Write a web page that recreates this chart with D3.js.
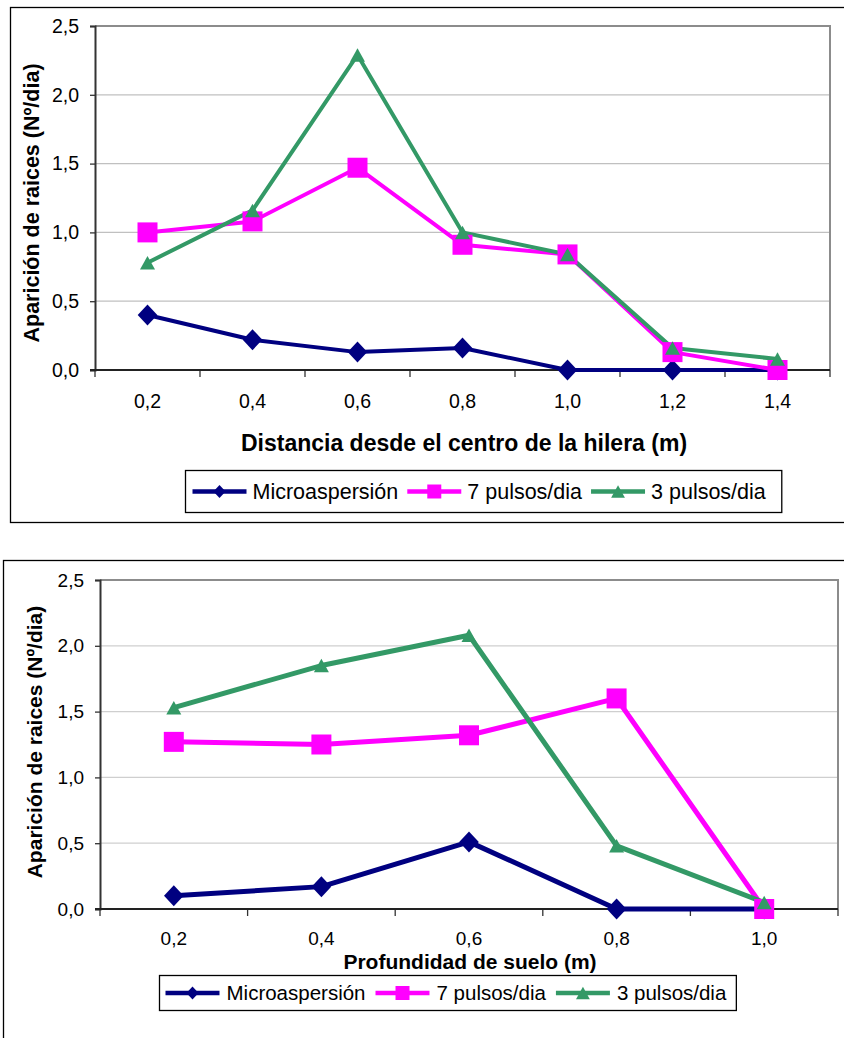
<!DOCTYPE html>
<html>
<head>
<meta charset="utf-8">
<script src="https://cdn.jsdelivr.net/npm/d3@7"></script>
<style>
  body { margin: 0; background: #fff; }
  svg { display: block; font-family: "Liberation Sans", Arial, sans-serif; }
</style>
</head>
<body>
<svg id="chart" width="844" height="1038"></svg>
<script>
// ---- data ----
const seriesNames = ["Microaspersión", "7 pulsos/dia", "3 pulsos/dia"];

// distance from the row centre (m)
const distancias = ["0,2", "0,4", "0,6", "0,8", "1,0", "1,2", "1,4"];
const microDistancia = [0.40, 0.22, 0.13, 0.16, 0.00, 0.00, 0.00];
const pulsos7Distancia = [1.00, 1.08, 1.47, 0.91, 0.84, 0.13, 0.00];
const pulsos3Distancia = [0.78, 1.16, 2.29, 1.00, 0.84, 0.16, 0.08];

// soil depth (m)
const profundidades = ["0,2", "0,4", "0,6", "0,8", "1,0"];
const microProfundidad = [0.10, 0.17, 0.51, 0.00, 0.00];
const pulsos7Profundidad = [1.27, 1.25, 1.32, 1.60, 0.00];
const pulsos3Profundidad = [1.53, 1.85, 2.08, 0.48, 0.05];

const yTicks = [0, 0.5, 1.0, 1.5, 2.0, 2.5];
const yTitle = "Aparición de raices (Nº/dia)";

// ---- styling ----
const seriesStyle = [
  { color: "#000080", marker: "diamond", legendScale: 0.62 },
  { color: "#FF00FF", marker: "square", legendScale: 0.7 },
  { color: "#339966", marker: "triangle", legendScale: 0.92 }
];

const esLocale = d3.formatLocale({ decimal: ",", thousands: ".", grouping: [3], currency: ["", " €"] });
const fmt = esLocale.format(".1f");

function markerPath(type, k) {
  if (type === "diamond") {
    const w = 9.8 * k, h = 10.5 * k;
    return `M0,${-h}L${w},0L0,${h}L${-w},0Z`;
  }
  if (type === "square") {
    const a = 10 * k;
    return `M${-a},${-a}H${a}V${a}H${-a}Z`;
  }
  const w = 15 * k, h = 13.5 * k;
  return `M0,${-h / 2}L${w / 2},${h / 2}L${-w / 2},${h / 2}Z`;
}

const svg = d3.select("#chart");

function drawChart(cfg) {
  const g = svg.append("g");

  // outer chart frame
  g.append("rect")
    .attr("x", cfg.frame.x).attr("y", cfg.frame.y)
    .attr("width", cfg.frame.w).attr("height", cfg.frame.h)
    .attr("fill", "none").attr("stroke", "#000").attr("stroke-width", 1.3);

  const x = d3.scaleBand().domain(cfg.categories).range([cfg.plot.l, cfg.plot.r]).padding(0);
  const y = d3.scaleLinear().domain([0, 2.5]).range([cfg.plot.b, cfg.plot.t]);
  const cx = d => x(d) + x.bandwidth() / 2;

  // horizontal gridlines
  g.append("g").selectAll("line").data(yTicks.filter(v => v > 0 && v < 2.5)).join("line")
    .attr("x1", cfg.plot.l).attr("x2", cfg.plot.r)
    .attr("y1", d => y(d)).attr("y2", d => y(d))
    .attr("stroke", cfg.gridColor).attr("stroke-width", 1.2);

  // plot area top and right border
  g.append("path")
    .attr("d", `M${cfg.plot.l},${y(2.5)}H${cfg.plot.r}V${y(0)}`)
    .attr("fill", "none").attr("stroke", "#8c8c8c").attr("stroke-width", 2);

  // y axis
  const yAxis = d3.axisLeft(y).tickValues(yTicks).tickFormat(fmt).tickSize(5).tickPadding(11);
  const ya = g.append("g").attr("transform", `translate(${cfg.plot.l},0)`).call(yAxis);
  ya.select(".domain").attr("stroke", "#333").attr("stroke-width", 2);
  ya.selectAll(".tick line").attr("stroke", "#333").attr("stroke-width", 1.3);
  ya.selectAll(".tick text").attr("font-size", cfg.tickSize).attr("fill", "#000")
    .attr("font-family", "'Liberation Sans', Arial, sans-serif");

  // x axis: labels centred on categories, ticks on category boundaries
  const xAxis = d3.axisBottom(x).tickSize(0).tickPadding(cfg.xLabelPad);
  const xa = g.append("g").attr("transform", `translate(0,${y(0)})`).call(xAxis);
  xa.select(".domain").remove();
  xa.selectAll(".tick text").attr("font-size", cfg.tickSize).attr("fill", "#000")
    .attr("font-family", "'Liberation Sans', Arial, sans-serif");
  const bounds = cfg.categories.map(d => x(d)).concat([x(cfg.categories[cfg.categories.length - 1]) + x.bandwidth()]);
  g.append("g").selectAll("line").data(bounds).join("line")
    .attr("x1", d => d).attr("x2", d => d)
    .attr("y1", y(0)).attr("y2", y(0) + 7)
    .attr("stroke", "#333").attr("stroke-width", 1.3);
  g.append("line")
    .attr("x1", cfg.plot.l - 5).attr("x2", cfg.plot.r)
    .attr("y1", y(0)).attr("y2", y(0))
    .attr("stroke", "#222").attr("stroke-width", 2);

  // series lines and markers
  const line = d3.line().x((d, i) => cx(cfg.categories[i])).y(d => y(d));
  cfg.series.forEach((vals, si) => {
    const st = seriesStyle[si];
    g.append("path").datum(vals)
      .attr("d", line)
      .attr("fill", "none").attr("stroke", st.color)
      .attr("stroke-width", cfg.lineWidth).attr("stroke-linejoin", "round");
  });
  cfg.series.forEach((vals, si) => {
    const st = seriesStyle[si];
    g.append("g").selectAll("path").data(vals).join("path")
      .attr("transform", (d, i) => `translate(${cx(cfg.categories[i])},${y(d)})`)
      .attr("d", markerPath(st.marker, 1))
      .attr("fill", st.color);
  });

  // axis titles
  g.append("text")
    .attr("transform", `translate(${cfg.yTitle.x},${cfg.yTitle.y}) rotate(-90)`)
    .attr("text-anchor", "middle").attr("font-weight", "bold")
    .attr("font-size", cfg.yTitle.size).text(yTitle);
  g.append("text")
    .attr("x", cfg.xTitle.x).attr("y", cfg.xTitle.y)
    .attr("text-anchor", "middle").attr("font-weight", "bold")
    .attr("font-size", cfg.xTitle.size).text(cfg.xTitle.text);

  // legend
  const lg = cfg.legend;
  const box = g.append("rect")
    .attr("x", lg.x).attr("y", lg.y).attr("height", lg.h)
    .attr("fill", "#fff").attr("stroke", "#000").attr("stroke-width", 1.3);
  let cursor = lg.x + lg.padL;
  const my = lg.y + lg.h / 2;
  seriesNames.forEach((name, si) => {
    const st = seriesStyle[si];
    g.append("line")
      .attr("x1", cursor).attr("x2", cursor + lg.sample)
      .attr("y1", my).attr("y2", my)
      .attr("stroke", st.color).attr("stroke-width", 4.5);
    g.append("path")
      .attr("transform", `translate(${cursor + lg.sample / 2},${my})`)
      .attr("d", markerPath(st.marker, st.legendScale))
      .attr("fill", st.color);
    cursor += lg.sample + lg.gap;
    const t = g.append("text")
      .attr("x", cursor).attr("y", my + lg.size * 0.36)
      .attr("font-size", lg.size).text(name);
    cursor += t.node().getComputedTextLength() + lg.after;
  });
  box.attr("width", cursor - lg.after + lg.padR - lg.x);
}

drawChart({
  frame: { x: 10.5, y: 7.5, w: 860, h: 515 },
  plot: { l: 95, r: 830, t: 26, b: 370 },
  categories: distancias,
  series: [microDistancia, pulsos7Distancia, pulsos3Distancia],
  gridColor: "#c0c0c0",
  tickSize: 19.5,
  xLabelPad: 24,
  lineWidth: 4,
  yTitle: { x: 39, y: 203, size: 21.5 },
  xTitle: { x: 464, y: 451, size: 23, text: "Distancia desde el centro de la hilera (m)" },
  legend: { x: 185.5, y: 470.5, h: 42, padL: 7, padR: 16, sample: 54, gap: 6, after: 9, size: 21.5 }
});

drawChart({
  frame: { x: 3.5, y: 560.5, w: 860, h: 500 },
  plot: { l: 100, r: 838, t: 580, b: 909 },
  categories: profundidades,
  series: [microProfundidad, pulsos7Profundidad, pulsos3Profundidad],
  gridColor: "#cfcfcf",
  tickSize: 19,
  xLabelPad: 23,
  lineWidth: 5,
  yTitle: { x: 42, y: 742, size: 21 },
  xTitle: { x: 470, y: 969, size: 21, text: "Profundidad de suelo (m)" },
  legend: { x: 159.5, y: 975.5, h: 35, padL: 6, padR: 10, sample: 54, gap: 7, after: 10, size: 20.5 }
});
</script>
</body>
</html>
